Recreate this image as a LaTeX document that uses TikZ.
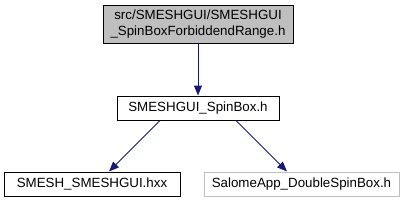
\documentclass[tikz,border=0pt]{standalone}
\usepackage{fontspec}
\setmainfont{Liberation Sans}
\usetikzlibrary{arrows.meta}
\definecolor{edgeblue}{HTML}{191970}
\definecolor{boxgray}{HTML}{BFBFBF}
\tikzset{
  box/.style={draw=black, line width=0.75pt, inner sep=0pt, font=\fontsize{10}{11.5}\selectfont, align=center},
  grayfill/.style={fill=boxgray},
  lightbox/.style={draw=boxgray},
  dep/.style={draw=edgeblue, line width=0.75pt, -{Triangle[length=7.5pt,width=6pt]}, color=edgeblue}
}
\begin{document}
\begin{tikzpicture}[x=0.75pt,y=-0.75pt]
\useasboundingbox (0,0) rectangle (407,201);
\node[box,grayfill,minimum width=190*0.75pt,minimum height=38*0.75pt] (top) at (198,24) {src/SMESHGUI/SMESHGUI\\\_SpinBoxForbiddendRange.h};
\node[box,minimum width=162*0.75pt,minimum height=24*0.75pt] (mid) at (198,108) {SMESHGUI\_SpinBox.h};
\node[box,minimum width=176*0.75pt,minimum height=24*0.75pt] (left) at (92,184) {SMESH\_SMESHGUI.hxx};
\node[box,lightbox,minimum width=195*0.75pt,minimum height=24*0.75pt] (right) at (301.5,184) {SalomeApp\_DoubleSpinBox.h};
\draw[dep] (top.south) -- (mid.north);
\draw[dep] ([xshift=-38*0.75pt]mid.south) -- ([xshift=17*0.75pt]left.north);
\draw[dep] ([xshift=38*0.75pt]mid.south) -- ([xshift=-14.5*0.75pt]right.north);
\end{tikzpicture}
\end{document}
